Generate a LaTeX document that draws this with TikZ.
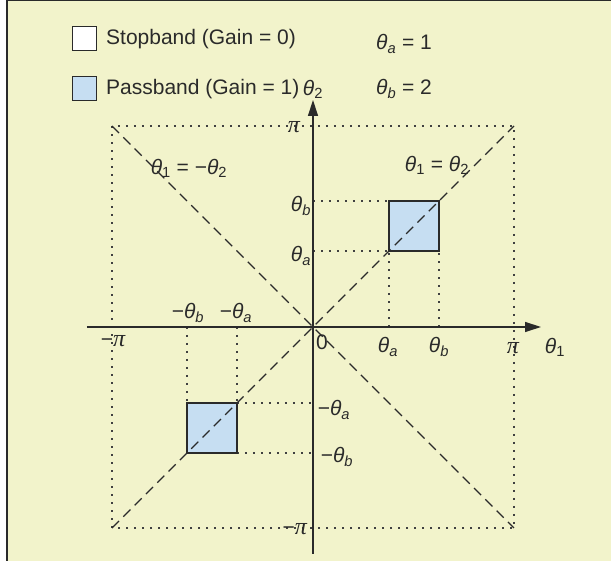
\documentclass[tikz,border=0pt]{standalone}
\usepackage{fontspec}
\setmainfont{Liberation Sans}
\newfontfamily\pifont{Liberation Serif}
\usepackage{xcolor}
\definecolor{Cream}{HTML}{F2F3CB}
\definecolor{PaleBlue}{HTML}{C6DEF2}
\definecolor{Ink}{HTML}{2A2A2A}
\definecolor{Dots}{HTML}{404040}
\usetikzlibrary{arrows.meta,positioning}
\newcommand{\thsub}[1]{\textit{θ}\textsubscript{#1}}
\newcommand{\pisym}{{\pifont\itshape\fontsize{24}{25}\selectfont π}}
\tikzset{
  axis/.style={-{Triangle[length=16pt,width=10pt]},line width=1.3pt,color=Ink},
  guide/.style={line width=1.7pt,color=Dots,dash pattern=on 1.7pt off 6.3pt},
  diag/.style={line width=1.2pt,color=Ink,dash pattern=on 10pt off 6pt},
  band/.style={draw=Ink,line width=1.2pt,fill=PaleBlue},
  legbox/.style={draw=Ink,line width=1pt,minimum size=24pt,inner sep=0pt},
  lbl/.style={font=\fontsize{21}{25}\selectfont,inner sep=1pt,text=Ink}
}

\begin{document}
\begin{tikzpicture}[x=1pt,y=1pt]
  \useasboundingbox (-313,-234) rectangle (298,327);
  \fill[Cream] (-306,-234) rectangle (298,327);
  \draw[line width=1.5pt,color=Ink] (-306,-234) -- (-306,326.3) -- (298,326.3);

  % corners of the band and of the square
  \coordinate (O) at (0,0);
  \coordinate (ll) at (-201,-201);
  \coordinate (ur) at (201,201);
  \coordinate (ul) at (-201,201);
  \coordinate (lr) at (201,-201);
  \coordinate (aa) at (76,76);
  \coordinate (bb) at (126,126);
  \coordinate (maa) at (-76,-76);
  \coordinate (mbb) at (-126,-126);

  \draw[guide] (ll) rectangle (ur);
  % dotted guides to the passbands
  \draw[guide] (O |- aa) -- (aa);
  \draw[guide] (O |- bb) -- (aa |- bb);
  \draw[guide] (aa |- O) -- (aa);
  \draw[guide] (bb |- O) -- (bb |- aa);
  \draw[guide] (mbb |- O) -- (mbb |- maa);
  \draw[guide] (maa |- O) -- (maa);
  \draw[guide] (maa) -- (O |- maa);
  \draw[guide] (maa |- mbb) -- (O |- mbb);

  \draw[band] (aa) rectangle (bb);
  \draw[band] (mbb) rectangle (maa);
  \draw[diag] (ll) -- (ur);
  \draw[diag] (ul) -- (lr);

  \coordinate (xl) at (-226,0);
  \coordinate (xr) at (228,0);
  \coordinate (yb) at (0,-227);
  \coordinate (yt) at (0,227);
  \draw[axis] (xl) -- (xr);
  \draw[axis] (yb) -- (yt);

  % axis labels
  \node[lbl] (th1) at (242,-20) {\thsub{1}};
  \node[lbl] (th2) at (0,238) {\thsub{2}};
  \node[lbl] (zero) at (9,-15) {0};
  \node[lbl] (pir) at (200,-21) {\pisym};
  \node[lbl] (pil) at (-200,-14) {−\pisym};
  \node[lbl,anchor=east] (pit) at (-12,200) {\pisym};
  \node[lbl,anchor=east] (pib) at (-5,-202) {−\pisym};
  \node[lbl] (tax) at (75,-20) {\thsub{\textit{a}}};
  \node[lbl] (tbx) at (126,-20) {\thsub{\textit{b}}};
  \node[lbl] (mtbx) at (-125,14) {−\thsub{\textit{b}}};
  \node[lbl] (mtax) at (-77,14) {−\thsub{\textit{a}}};
  \node[lbl] (tby) at (-12,121) {\thsub{\textit{b}}};
  \node[lbl] (tay) at (-12,71) {\thsub{\textit{a}}};
  \node[lbl] (mtay) at (21,-83) {−\thsub{\textit{a}}};
  \node[lbl] (mtby) at (24,-130) {−\thsub{\textit{b}}};
  \node[lbl] (antidiag) at (-124,159) {\thsub{1} = −\thsub{2}};
  \node[lbl] (maindiag) at (124,162) {\thsub{1} = \thsub{2}};

  % legend
  \node[legbox,fill=white] (stopkey) at (-228.5,288) {};
  \node[lbl,right=8pt of stopkey] (stoptext) {Stopband (Gain = 0)};
  \node[legbox,fill=PaleBlue] (passkey) at (-228.5,238) {};
  \node[lbl,right=8pt of passkey] (passtext) {Passband (Gain = 1)};
  \node[lbl,anchor=west] (vala) at (62,283) {\thsub{\textit{a}} = 1};
  \node[lbl,anchor=west] (valb) at (62,238) {\thsub{\textit{b}} = 2};
\end{tikzpicture}
\end{document}
